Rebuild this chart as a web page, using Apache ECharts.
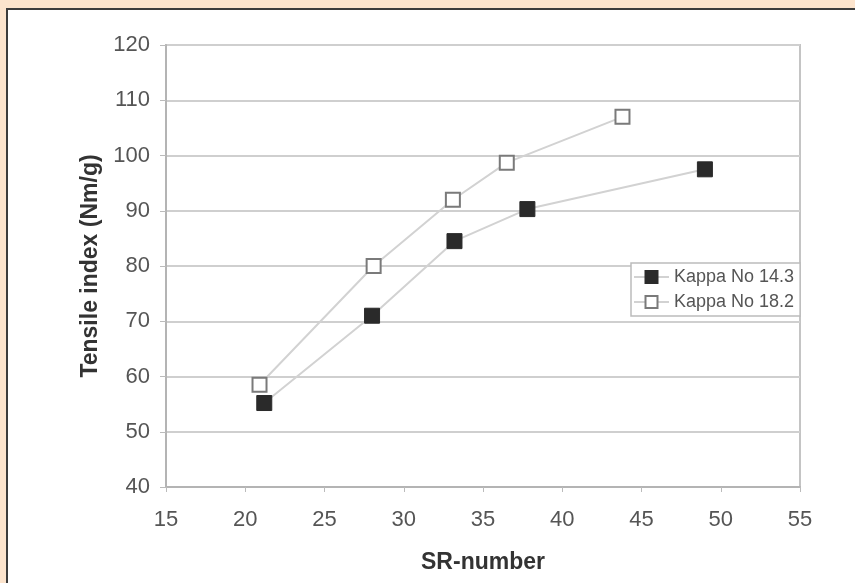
<!DOCTYPE html>
<html>
<head>
<meta charset="utf-8">
<script src="https://cdn.jsdelivr.net/npm/echarts@6/dist/echarts.min.js"></script>
<style>
  html, body { margin: 0; padding: 0; background: #fce4cd; }
  #panel { position: absolute; left: 6px; top: 8px; width: 849px; height: 575px;
           background: #fff; border-left: 2px solid #3c3c3c; border-top: 2px solid #3c3c3c; box-sizing: border-box; }
  #main { position: absolute; left: 0; top: 0; width: 855px; height: 583px; }
</style>
</head>
<body>
<div id="panel"></div>
<div id="main"></div>
<script>
// SR-number vs tensile index, two kappa numbers
const kappa143X = [21.2, 28.0, 33.2, 37.8, 49.0];
const kappa143Y = [55.2, 71.0, 84.5, 90.3, 97.5];
const kappa182X = [20.9, 28.1, 33.1, 36.5, 43.8];
const kappa182Y = [58.5, 80.0, 92.0, 98.7, 107.0];
const seriesNames = ['Kappa No 14.3', 'Kappa No 18.2'];

function pairs(xs, ys) {
  return xs.map((x, i) => [x, ys[i]]);
}

const chart = echarts.init(document.getElementById('main'), null, { renderer: 'canvas' });

const option = {
  backgroundColor: 'transparent',
  animation: false,
  grid: {
    left: 166,
    right: 55,
    top: 45,
    bottom: 96,
    show: true,
    borderColor: '#c4c4c4',
    borderWidth: 2
  },
  legend: {
    data: seriesNames,
    orient: 'vertical',
    left: 631,
    top: 263,
    padding: [5, 6, 5, 2],
    itemGap: 7,
    itemWidth: 35,
    itemHeight: 15,
    backgroundColor: '#fff',
    borderColor: '#bcbcbc',
    borderWidth: 1.5,
    borderRadius: 0,
    textStyle: { fontFamily: 'Liberation Sans', fontSize: 18, color: '#555' }
  },
  xAxis: {
    type: 'value',
    min: 15,
    max: 55,
    interval: 5,
    name: 'SR-number',
    nameLocation: 'middle',
    nameGap: 64,
    nameTextStyle: { fontFamily: 'Liberation Sans', fontWeight: 'bold', fontSize: 23, color: '#333' },
    axisLine: { show: true, lineStyle: { color: '#b4b4b4', width: 2 } },
    axisTick: { show: true, length: 5, lineStyle: { color: '#bbb' } },
    axisLabel: { fontFamily: 'Liberation Sans', fontSize: 22, color: '#555', margin: 22 },
    splitLine: { show: false }
  },
  yAxis: {
    type: 'value',
    min: 40,
    max: 120,
    interval: 10,
    name: 'Tensile index (Nm/g)',
    nameLocation: 'middle',
    nameGap: 63,
    nameTextStyle: { fontFamily: 'Liberation Sans', fontWeight: 'bold', fontSize: 23, color: '#333' },
    axisLine: { show: true, lineStyle: { color: '#b4b4b4', width: 2 } },
    axisTick: { show: true, length: 6, lineStyle: { color: '#bbb' } },
    axisLabel: { fontFamily: 'Liberation Sans', fontSize: 22, color: '#555', margin: 16 },
    splitLine: { show: true, lineStyle: { color: '#cfcfcf', width: 2 } }
  },
  series: [
    {
      name: seriesNames[0],
      type: 'line',
      data: pairs(kappa143X, kappa143Y),
      symbol: 'rect',
      symbolSize: 15,
      lineStyle: { color: '#d2d2d2', width: 2 },
      itemStyle: { color: '#2a2a2a', borderColor: '#2a2a2a', borderWidth: 1 },
      z: 3
    },
    {
      name: seriesNames[1],
      type: 'line',
      data: pairs(kappa182X, kappa182Y),
      symbol: 'rect',
      symbolSize: 14,
      lineStyle: { color: '#d2d2d2', width: 2 },
      itemStyle: { color: '#fff', borderColor: '#7a7a7a', borderWidth: 2 },
      z: 3
    }
  ]
};

chart.setOption(option);
</script>
</body>
</html>
